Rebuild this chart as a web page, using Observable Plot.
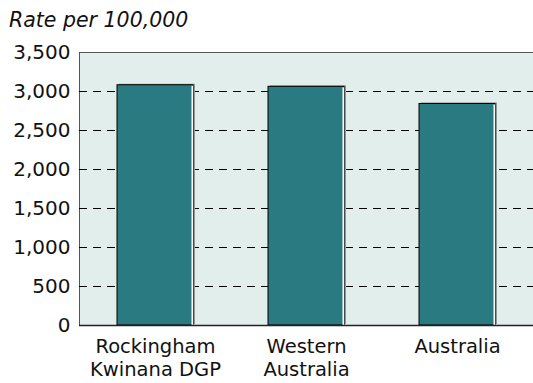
<!DOCTYPE html>
<html>
<head>
<meta charset="utf-8">
<script src="https://cdn.jsdelivr.net/npm/d3@7"></script>
<script src="https://cdn.jsdelivr.net/npm/@observablehq/plot@0.6"></script>
<style>
  body { margin: 0; background: #fff; }
  #title { font-family: "DejaVu Sans", sans-serif; font-style: italic; font-size: 20.5px; height: 40px; line-height: 40px; padding-left: 9px; box-sizing: border-box; white-space: nowrap; color: #111; }
  svg { display: block; }
</style>
</head>
<body>
<div id="title">Rate per 100,000</div>
<div id="chart"></div>
<script>
const categories = ["Rockingham\nKwinana DGP", "Western\nAustralia", "Australia"];
const rates = [3080, 3060, 2840];
const yTicks = [0, 500, 1000, 1500, 2000, 2500, 3000, 3500];

const data = categories.map((c, i) => ({category: c, rate: rates[i]}));

const chart = Plot.plot({
  width: 533,
  height: 343,
  marginTop: 12,
  marginBottom: 58,
  marginLeft: 79,
  marginRight: 0,
  style: {fontFamily: "DejaVu Sans, sans-serif", fontSize: "20px", color: "#111", background: "white"},
  x: {domain: categories, padding: 0.5, paddingOuter: 0.25, label: null},
  y: {domain: [0, 3500], label: null},
  marks: [
    Plot.frame({fill: "#e2eeeb", stroke: "#555"}),
    Plot.gridY(yTicks.filter(d => d > 0 && d < 3500), {stroke: "#000", strokeOpacity: 1, strokeDasharray: "8,6"}),
    Plot.axisY({ticks: yTicks, tickSize: 0, tickPadding: 9, tickFormat: d3.format(","), label: null}),
    Plot.axisX({tickSize: 0, tickPadding: 12, lineHeight: 1.15, fontSize: 19.5, label: null}),
    Plot.barY(data, {x: "category", y: "rate", fill: "#8f9797", dx: 2, dy: -1}),
    Plot.barY(data, {x: "category", y: "rate", fill: "#2a7a82", stroke: "#000", strokeWidth: 1}),
    Plot.barY(data, {x: "category", y: "rate", fill: "none", stroke: "white", insetLeft: 75, insetRight: 0.5, insetTop: 1.5, insetBottom: 0.5}),
    Plot.ruleY([0], {stroke: "#222", strokeWidth: 1.5})
  ]
});
document.getElementById("chart").appendChild(chart);
</script>
</body>
</html>
